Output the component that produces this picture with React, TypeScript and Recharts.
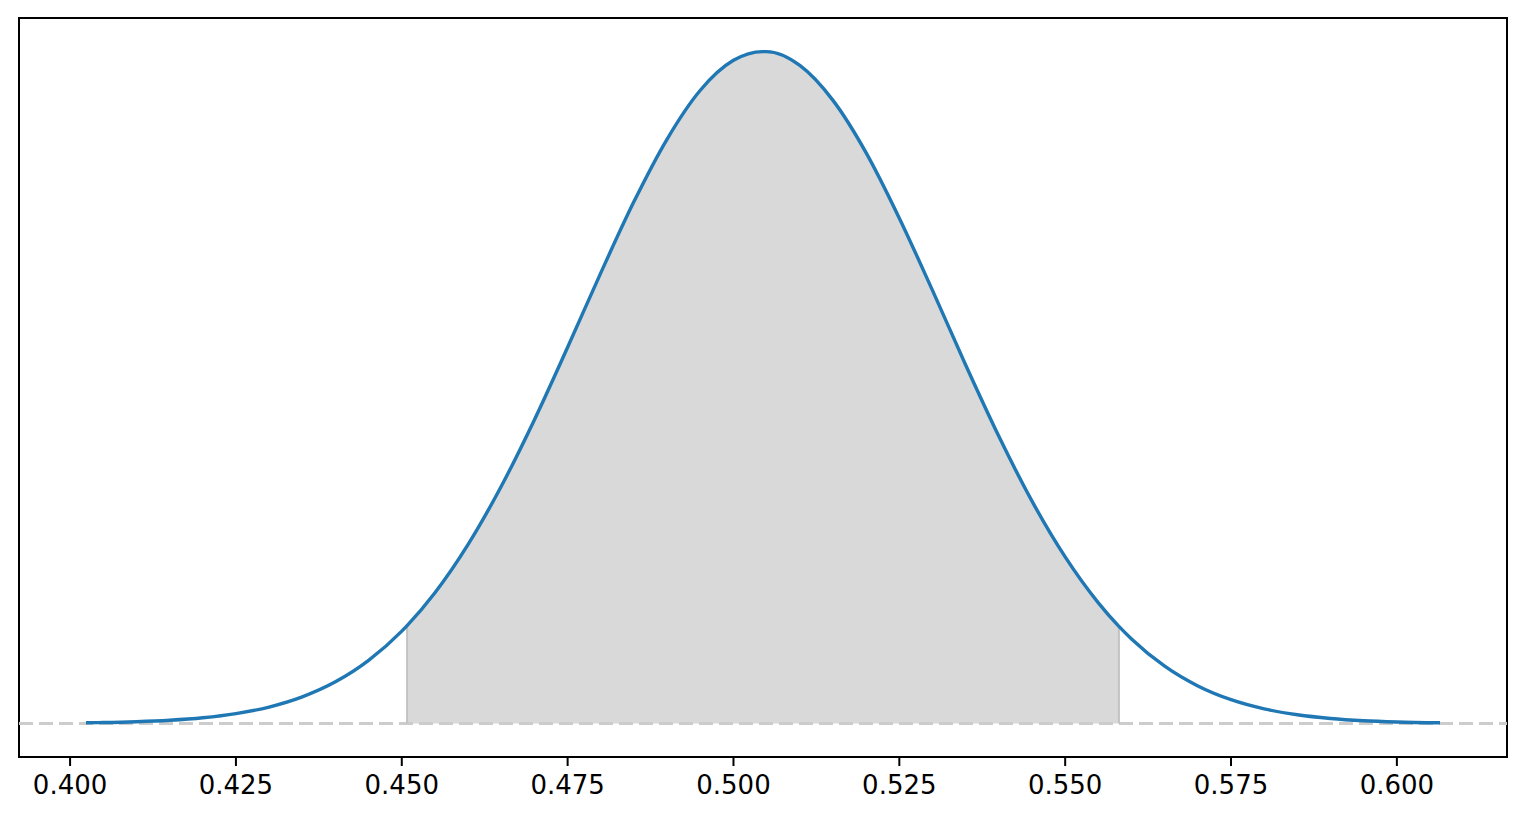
import { ComposedChart, Line, Area, XAxis, YAxis, ReferenceLine, ReferenceArea } from "recharts";

// density curve (x, height)
const xs = [
  0.4024, 0.405, 0.41, 0.415, 0.42, 0.425, 0.43, 0.435, 0.44, 0.445, 0.45, 0.4508,
  0.455, 0.46, 0.465, 0.47, 0.475, 0.48, 0.485, 0.49, 0.495, 0.5, 0.5044, 0.505,
  0.51, 0.515, 0.52, 0.525, 0.53, 0.535, 0.54, 0.545, 0.55, 0.555, 0.5581, 0.56,
  0.565, 0.57, 0.575, 0.58, 0.585, 0.59, 0.595, 0.6, 0.6065,
];
const density = [
  0.014, 0.019, 0.037, 0.069, 0.123, 0.213, 0.356, 0.577, 0.903, 1.369, 2.005, 2.125,
  2.84, 3.891, 5.154, 6.601, 8.175, 9.792, 11.34, 12.7, 13.76, 14.41, 14.6, 14.6,
  14.3, 13.54, 12.4, 10.98, 9.41, 7.79, 6.24, 4.83, 3.618, 2.62, 2.108, 1.835,
  1.243, 0.814, 0.515, 0.316, 0.187, 0.107, 0.059, 0.032, 0.013,
];
const ciLow = 0.4508;
const ciHigh = 0.5581;
const xTicks = [0.4, 0.425, 0.45, 0.475, 0.5, 0.525, 0.55, 0.575, 0.6];

const data = xs.map((x, i) => ({
  x,
  y: density[i],
  ci: x >= ciLow && x <= ciHigh ? density[i] : null,
}));

const lowY = density[xs.indexOf(ciLow)];
const highY = density[xs.indexOf(ciHigh)];
const peak = Math.max(...density);
const yDomain = [-0.05 * peak, 1.05 * peak];
const xDomain = [0.3923, 0.6166];

const FONT = "'DejaVu Sans', sans-serif";

export default function App() {
  return (
    <div style={{ position: "absolute", left: 0, top: 0, background: "#fff" }}>
      <ComposedChart
        width={1526}
        height={822}
        data={data}
        margin={{ top: 18, right: 19, left: 19, bottom: 25 }}
      >
        <XAxis
          dataKey="x"
          type="number"
          domain={xDomain}
          allowDataOverflow
          ticks={xTicks}
          tickFormatter={(v: number) => v.toFixed(3)}
          height={40}
          tickSize={9}
          tickMargin={10}
          axisLine={{ stroke: "#000", strokeWidth: 2 }}
          tickLine={{ stroke: "#000", strokeWidth: 2 }}
          tick={{ fill: "#000", fontSize: 26, fontFamily: FONT }}
        />
        <YAxis type="number" domain={yDomain} allowDataOverflow hide />
        <ReferenceLine y={0} stroke="#cccccc" strokeWidth={3} strokeDasharray="14 6" />
        <Area
          dataKey="ci"
          type="monotone"
          baseValue={0}
          fill="#d9d9d9"
          fillOpacity={1}
          stroke="#c2c2c2"
          strokeWidth={1.5}
          connectNulls={false}
          dot={false}
          activeDot={false}
          isAnimationActive={false}
        />
        <ReferenceLine
          segment={[{ x: ciLow, y: 0 }, { x: ciLow, y: lowY }]}
          stroke="#c2c2c2"
          strokeWidth={2}
        />
        <ReferenceLine
          segment={[{ x: ciHigh, y: 0 }, { x: ciHigh, y: highY }]}
          stroke="#c2c2c2"
          strokeWidth={2}
        />
        <Line
          dataKey="y"
          type="monotone"
          stroke="#1f77b4"
          strokeWidth={3.4}
          dot={false}
          activeDot={false}
          isAnimationActive={false}
        />
        <ReferenceArea
          x1={xDomain[0]}
          x2={xDomain[1]}
          y1={yDomain[0]}
          y2={yDomain[1]}
          fill="none"
          fillOpacity={0}
          stroke="#000"
          strokeWidth={2}
          ifOverflow="visible"
        />
      </ComposedChart>
    </div>
  );
}
